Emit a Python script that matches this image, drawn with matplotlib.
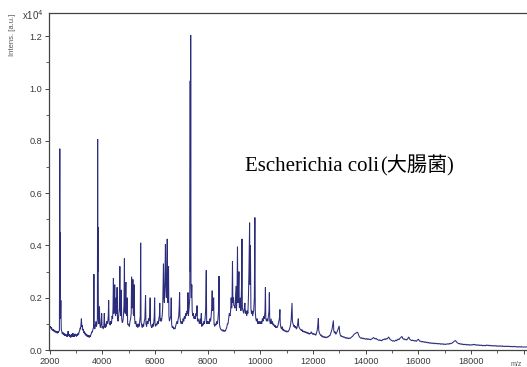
import matplotlib
matplotlib.use("Agg")
import matplotlib.pyplot as plt
from matplotlib.ticker import MultipleLocator

# ---- data: spectrum trace (m/z, intensity in units of 1e4 a.u.) ----
seg_2000 = [(1990,0.088),(2010,0.085),(2030,0.09),(2050,0.082),(2070,0.087),(2090,0.076),(2110,0.08),
            (2130,0.074),(2150,0.079),(2170,0.07),(2190,0.075),(2210,0.068),(2230,0.073),(2250,0.066),
            (2270,0.072),(2290,0.064),(2310,0.07),(2330,0.066),(2350,0.072),(2370,0.075),(2385,0.77),
            (2392,0.2),(2400,0.45),(2410,0.12),(2425,0.19),(2440,0.08),(2460,0.07),(2480,0.062),
            (2500,0.068),(2520,0.058),(2540,0.064),(2560,0.055),(2580,0.062),(2600,0.056),(2620,0.06),
            (2640,0.052),(2660,0.058),(2680,0.05),(2700,0.072),(2715,0.055),(2740,0.06),(2760,0.05),
            (2780,0.058),(2800,0.048),(2820,0.056),(2840,0.06),(2860,0.05),(2880,0.065),(2900,0.052),
            (2920,0.058),(2940,0.05),(2960,0.062),(2980,0.054)]
seg_3000 = [(3000,0.058),(3020,0.052),(3040,0.06),(3060,0.055),(3080,0.065),(3100,0.06),(3120,0.07),
            (3140,0.075),(3160,0.085),(3175,0.08),(3190,0.1),(3205,0.12),(3220,0.09),(3240,0.095),
            (3260,0.075),(3280,0.08),(3300,0.065),(3320,0.07),(3340,0.06),(3360,0.065),(3380,0.055),
            (3400,0.06),(3420,0.052),(3440,0.058),(3460,0.05),(3480,0.056),(3500,0.048),(3520,0.055),
            (3540,0.05),(3560,0.058),(3580,0.062),(3600,0.07),(3620,0.068),(3645,0.08),(3665,0.085),
            (3680,0.29),(3690,0.1),(3710,0.08),(3730,0.09),(3755,0.11),(3775,0.09),(3795,0.1),
            (3812,0.12),(3822,0.807),(3830,0.3),(3838,0.47),(3850,0.12),(3870,0.1),(3890,0.166),
            (3905,0.1),(3925,0.085),(3950,0.1),(3975,0.14),(3990,0.085)]
seg_4000 = [(4010,0.09),(4030,0.08),(4055,0.09),(4075,0.14),(4090,0.09),(4110,0.085),(4130,0.1),
            (4150,0.09),(4175,0.11),(4200,0.1),(4225,0.13),(4240,0.19),(4255,0.11),(4275,0.1),
            (4300,0.095),(4320,0.11),(4345,0.1),(4370,0.13),(4390,0.12),(4405,0.16),(4420,0.275),
            (4432,0.14),(4450,0.16),(4470,0.25),(4485,0.14),(4505,0.13),(4525,0.2),(4540,0.14),
            (4560,0.24),(4575,0.12),(4595,0.11),(4620,0.13),(4645,0.16),(4665,0.32),(4680,0.15),
            (4700,0.13),(4720,0.23),(4735,0.12),(4755,0.105),(4780,0.11),(4800,0.13),(4820,0.17),
            (4838,0.35),(4850,0.15),(4870,0.14),(4893,0.26),(4905,0.14),(4925,0.13),(4945,0.2),
            (4960,0.1),(4980,0.095)]
seg_5000 = [(5000,0.1),(5025,0.09),(5050,0.11),(5075,0.12),(5095,0.14),(5110,0.28),(5122,0.16),
            (5140,0.2),(5160,0.27),(5172,0.14),(5190,0.13),(5210,0.25),(5225,0.12),(5245,0.1),
            (5270,0.11),(5295,0.09),(5320,0.1),(5345,0.085),(5370,0.1),(5395,0.09),(5420,0.11),
            (5440,0.13),(5455,0.41),(5468,0.11),(5490,0.095),(5515,0.085),(5540,0.1),(5565,0.09),
            (5590,0.11),(5615,0.12),(5640,0.21),(5655,0.1),(5680,0.09),(5705,0.11),(5730,0.1),
            (5755,0.12),(5775,0.11),(5795,0.13),(5815,0.2),(5830,0.1),(5855,0.09),(5880,0.085),
            (5905,0.1),(5930,0.09),(5955,0.11),(5970,0.13),(5985,0.2),(5998,0.1)]
seg_6000 = [(6020,0.09),(6045,0.1),(6070,0.095),(6095,0.11),(6120,0.1),(6145,0.12),(6165,0.13),
            (6180,0.18),(6195,0.11),(6220,0.12),(6245,0.11),(6270,0.13),(6290,0.16),(6320,0.33),
            (6335,0.2),(6355,0.18),(6375,0.26),(6395,0.405),(6410,0.25),(6430,0.2),(6450,0.3),
            (6463,0.425),(6478,0.2),(6495,0.18),(6512,0.32),(6527,0.13),(6547,0.11),(6572,0.12),
            (6597,0.13),(6615,0.2),(6630,0.1),(6655,0.085),(6680,0.09),(6705,0.08),(6730,0.085),
            (6755,0.08),(6780,0.09),(6805,0.1),(6830,0.11),(6855,0.1),(6880,0.12),(6900,0.13),
            (6915,0.16),(6933,0.22),(6945,0.13),(6965,0.11),(6990,0.1)]
seg_7000 = [(7015,0.11),(7040,0.1),(7065,0.12),(7090,0.11),(7115,0.13),(7140,0.12),(7165,0.14),
            (7190,0.13),(7215,0.15),(7235,0.14),(7250,0.22),(7265,0.13),(7285,0.15),(7305,0.18),
            (7320,0.2),(7335,1.03),(7343,0.3),(7354,1.205),(7365,0.25),(7380,0.2),(7395,0.25),
            (7410,0.15),(7430,0.13),(7455,0.14),(7480,0.12),(7505,0.13),(7530,0.12),(7555,0.14),
            (7575,0.13),(7595,0.17),(7610,0.11),(7635,0.12),(7660,0.11),(7685,0.1),(7710,0.12),
            (7735,0.1),(7757,0.14),(7775,0.09),(7800,0.1),(7825,0.095),(7850,0.11),(7875,0.1),
            (7900,0.12),(7920,0.15),(7945,0.305),(7960,0.1),(7985,0.11)]
seg_8000 = [(8010,0.1),(8035,0.11),(8060,0.1),(8085,0.12),(8110,0.11),(8130,0.13),(8150,0.16),
            (8170,0.227),(8185,0.15),(8205,0.16),(8225,0.2),(8240,0.1),(8265,0.09),(8290,0.1),
            (8315,0.095),(8340,0.11),(8365,0.1),(8390,0.12),(8410,0.15),(8430,0.283),(8445,0.1),
            (8470,0.085),(8495,0.08),(8520,0.075),(8545,0.078),(8570,0.072),(8595,0.077),(8620,0.07),
            (8645,0.075),(8670,0.072),(8695,0.08),(8720,0.085),(8745,0.1),(8770,0.1),(8795,0.12),
            (8820,0.14),(8845,0.13),(8870,0.15),(8890,0.2),(8910,0.16),(8925,0.2),(8940,0.34),
            (8955,0.18),(8975,0.2),(8990,0.17)]
seg_9000 = [(9010,0.17),(9035,0.16),(9055,0.2),(9075,0.245),(9090,0.15),(9110,0.2),(9130,0.395),
            (9145,0.18),(9165,0.22),(9185,0.3),(9200,0.16),(9220,0.18),(9240,0.2),(9260,0.15),
            (9285,0.25),(9300,0.425),(9315,0.16),(9340,0.15),(9365,0.14),(9390,0.16),(9410,0.18),
            (9430,0.14),(9455,0.15),(9480,0.13),(9505,0.15),(9525,0.14),(9545,0.2),(9565,0.3),
            (9590,0.487),(9605,0.25),(9620,0.4),(9640,0.16),(9660,0.14),(9685,0.15),(9705,0.13),
            (9725,0.14),(9745,0.15),(9770,0.2),(9790,0.507),(9805,0.15),(9825,0.12),(9850,0.11),
            (9875,0.12),(9900,0.1),(9925,0.11),(9950,0.1),(9975,0.11)]
seg_10000 = [(10000,0.1),(10025,0.11),(10050,0.1),(10075,0.12),(10100,0.11),(10125,0.13),(10150,0.12),
             (10175,0.15),(10190,0.24),(10205,0.12),(10230,0.11),(10255,0.12),(10280,0.11),(10305,0.13),
             (10325,0.15),(10340,0.22),(10355,0.11),(10380,0.1),(10405,0.12),(10430,0.1),(10455,0.11),
             (10480,0.095),(10505,0.1),(10530,0.09),(10555,0.095),(10580,0.085),(10605,0.09),(10630,0.085),
             (10655,0.09),(10680,0.1),(10700,0.11),(10720,0.12),(10740,0.155),(10755,0.1),(10780,0.085),
             (10805,0.08),(10830,0.09),(10855,0.075),(10880,0.08),(10905,0.072),(10930,0.075),(10955,0.07),
             (10980,0.074)]
seg_11000 = [(11005,0.068),(11030,0.072),(11055,0.07),(11080,0.075),(11105,0.08),(11130,0.09),(11150,0.1),
             (11170,0.12),(11200,0.18),(11215,0.11),(11240,0.1),(11265,0.09),(11290,0.095),(11315,0.085),
             (11340,0.09),(11365,0.08),(11390,0.085),(11415,0.1),(11440,0.12),(11455,0.09),(11480,0.085),
             (11505,0.08),(11530,0.078),(11555,0.074),(11580,0.078),(11605,0.07),(11630,0.073),(11655,0.068),
             (11680,0.072),(11705,0.066),(11730,0.07),(11755,0.064),(11780,0.068),(11805,0.062),(11830,0.066),
             (11855,0.06),(11880,0.064),(11905,0.062),(11930,0.07),(11955,0.065),(11980,0.06)]
seg_12000 = [(12010,0.064),(12040,0.058),(12070,0.062),(12100,0.056),(12130,0.065),(12155,0.075),
             (12175,0.09),(12200,0.121),(12215,0.075),(12240,0.065),(12265,0.06),(12290,0.055),(12315,0.058),
             (12340,0.05),(12365,0.054),(12390,0.048),(12415,0.052),(12440,0.047),(12465,0.05),(12490,0.046),
             (12515,0.05),(12540,0.048),(12565,0.052),(12590,0.05),(12615,0.056),(12640,0.055),(12665,0.062),
             (12690,0.07),(12720,0.08),(12770,0.113),(12785,0.075),(12810,0.065),(12835,0.07),(12860,0.06),
             (12890,0.065),(12920,0.072),(12950,0.08),(12990,0.092),(13005,0.07),(13030,0.058),(13055,0.052),
             (13080,0.055),(13105,0.05),(13135,0.052),(13165,0.048),(13195,0.05),(13225,0.045),(13255,0.048),
             (13285,0.044),(13315,0.047),(13345,0.043),(13375,0.046),(13405,0.044),(13435,0.047),(13465,0.05),
             (13495,0.052),(13525,0.056),(13555,0.06),(13585,0.062),(13615,0.064),(13645,0.066),(13675,0.068),
             (13700,0.066),(13725,0.058),(13750,0.052),(13780,0.048),(13810,0.045),(13840,0.047),(13870,0.043),
             (13900,0.046),(13930,0.042),(13960,0.044),(13990,0.041)]
seg_14000 = [(14030,0.044),(14060,0.04),(14090,0.043),(14120,0.04),(14150,0.042),(14180,0.039),(14210,0.041),
             (14240,0.043),(14270,0.046),(14300,0.048),(14330,0.044),(14360,0.042),(14390,0.045),(14420,0.041),
             (14450,0.04),(14480,0.037),(14510,0.039),(14540,0.036),(14570,0.038),(14600,0.035),(14630,0.038),
             (14660,0.041),(14690,0.039),(14720,0.043),(14750,0.04),(14780,0.044),(14810,0.042),(14840,0.046),
             (14870,0.05),(14900,0.044),(14930,0.04),(14960,0.038),(14990,0.036),(15020,0.034),(15050,0.036),
             (15080,0.033),(15110,0.035),(15140,0.038),(15170,0.035),(15200,0.04),(15230,0.042),(15260,0.039),
             (15290,0.044),(15320,0.047),(15350,0.05),(15375,0.052),(15400,0.045),(15430,0.041),(15460,0.043),
             (15490,0.039),(15520,0.041),(15550,0.038),(15580,0.042),(15610,0.046),(15630,0.05),(15655,0.044),
             (15680,0.04),(15710,0.038),(15740,0.036),(15770,0.038),(15800,0.035),(15830,0.037),(15860,0.034),
             (15890,0.036),(15920,0.033),(15950,0.037),(15980,0.04),(16000,0.041),(16030,0.036),(16060,0.033),
             (16090,0.034),(16120,0.031),(16150,0.033),(16180,0.03),(16210,0.032),(16240,0.029),(16270,0.031),
             (16300,0.028),(16330,0.03),(16360,0.027),(16390,0.029),(16420,0.026),(16450,0.028),(16480,0.025),
             (16510,0.027),(16540,0.025),(16570,0.027),(16600,0.024),(16630,0.026),(16660,0.024),(16690,0.026),
             (16720,0.023),(16750,0.025),(16780,0.023),(16810,0.025),(16840,0.022),(16870,0.024),(16900,0.022),
             (16930,0.024),(16960,0.021),(16990,0.023)]
seg_17000 = [(17020,0.021),(17050,0.023),(17080,0.022),(17110,0.024),(17140,0.022),(17170,0.025),(17200,0.023),
             (17230,0.026),(17260,0.025),(17290,0.028),(17320,0.03),(17350,0.033),(17380,0.035),(17410,0.036),
             (17440,0.031),(17470,0.028),(17500,0.026),(17530,0.024),(17560,0.025),(17590,0.022),(17620,0.024),
             (17650,0.021),(17680,0.023),(17710,0.02),(17740,0.022),(17770,0.02),(17800,0.022),(17830,0.019),
             (17860,0.021),(17890,0.019),(17920,0.021),(17950,0.018),(17980,0.02),(18010,0.019),(18040,0.021),
             (18070,0.019),(18100,0.022),(18130,0.02),(18160,0.021),(18190,0.018),(18220,0.02),(18250,0.018),
             (18280,0.02),(18310,0.017),(18340,0.019),(18370,0.017),(18400,0.019),(18430,0.016),(18460,0.018),
             (18490,0.016),(18520,0.018),(18550,0.016),(18580,0.019),(18610,0.017),(18640,0.019),(18670,0.016),
             (18700,0.018),(18730,0.016),(18760,0.018),(18790,0.015),(18820,0.017),(18850,0.015),(18880,0.017),
             (18910,0.015),(18940,0.017),(18970,0.014),(19000,0.016),(19030,0.014),(19060,0.016),(19090,0.014),
             (19120,0.016),(19150,0.014),(19180,0.016),(19210,0.013),(19240,0.015),(19270,0.013),(19300,0.015),
             (19330,0.013),(19360,0.015),(19390,0.013),(19420,0.015),(19450,0.013),(19480,0.014),(19510,0.012),
             (19540,0.014),(19570,0.012),(19600,0.014),(19630,0.012),(19660,0.014),(19690,0.012),(19720,0.013),
             (19750,0.011),(19780,0.013),(19810,0.011),(19840,0.013),(19870,0.011),(19900,0.013),(19930,0.011),
             (19960,0.012),(19990,0.011),(20020,0.012),(20060,0.011),(20100,0.012),(20140,0.011),(20180,0.012),
             (20220,0.011)]

segments = [seg_2000, seg_3000, seg_4000, seg_5000, seg_6000, seg_7000, seg_8000, seg_9000,
            seg_10000, seg_11000, seg_12000, seg_14000, seg_17000]

x_ticks = [2000, 4000, 6000, 8000, 10000, 12000, 14000, 16000, 18000, 20000]
x_tick_labels = ["2000", "4000", "6000", "8000", "10000", "12000", "14000", "16000", "18000", ""]
y_ticks = [0.0, 0.2, 0.4, 0.6, 0.8, 1.0, 1.2]
y_tick_labels = ["0.0", "0.2", "0.4", "0.6", "0.8", "1.0", "1.2"]

title_latin = "Escherichia coli"
title_cjk = "(大腸菌)"

# ---- figure ----
W, H = 527, 367
fig = plt.figure(figsize=(W / 100, H / 100), dpi=100)
ax = fig.add_axes([49 / W, 1 - 350 / H, (W - 49) / W + 0.01, (350 - 13) / H])

mz = [p[0] for seg in segments for p in seg]
inten = [p[1] for seg in segments for p in seg]
ax.plot(mz, inten, color="#2c2c7c", lw=0.75, solid_joinstyle="miter")

ax.set_xlim(1975, 20320)
ax.set_ylim(0, 1.289)

ax.set_xticks(x_ticks)
ax.set_xticklabels(x_tick_labels)
ax.set_yticks(y_ticks)
ax.set_yticklabels(y_tick_labels)
ax.xaxis.set_minor_locator(MultipleLocator(1000))
ax.yaxis.set_minor_locator(MultipleLocator(0.1))

spine_c = "#444444"
for s in ["left", "bottom", "top"]:
    ax.spines[s].set_color(spine_c)
    ax.spines[s].set_linewidth(0.9)
ax.spines["right"].set_visible(False)

tick_font = "Liberation Sans"
ax.tick_params(axis="both", which="major", direction="out", length=3.2, width=0.7,
               color=spine_c, labelsize=6.6, labelcolor="#3a3a3a", pad=1.8)
ax.tick_params(axis="both", which="minor", direction="out", length=2.4, width=0.6, color=spine_c)
ax.tick_params(axis="x", which="both", top=False)
for lab in ax.get_xticklabels() + ax.get_yticklabels():
    lab.set_fontfamily(tick_font)

fig.text(13 / W, 1 - 35 / H, "Intens. [a.u.]", rotation=90, fontsize=5.5, color="#555555",
         ha="center", va="center", family=tick_font)
fig.text(22.5 / W, 1 - 20.5 / H, r"x10$^{4}$", fontsize=7, color="#3a3a3a", ha="left",
         va="baseline", family=tick_font)
fig.text(511 / W, 1 - 366 / H, "m/z", fontsize=5, color="#555555", ha="left", va="baseline",
         family=tick_font)

t1 = fig.text(245 / W, 1 - 171 / H, title_latin, fontsize=15, color="black", ha="left",
              va="baseline", family=["Liberation Serif"])
fig.canvas.draw()
bb = t1.get_window_extent()
fig.text((bb.x1 + 1) / W, 1 - 171 / H, title_cjk, fontsize=14.5, color="black", ha="left",
         va="baseline", family=["Liberation Serif", "Noto Sans CJK JP"])

fig.savefig("out.png", dpi=100)
